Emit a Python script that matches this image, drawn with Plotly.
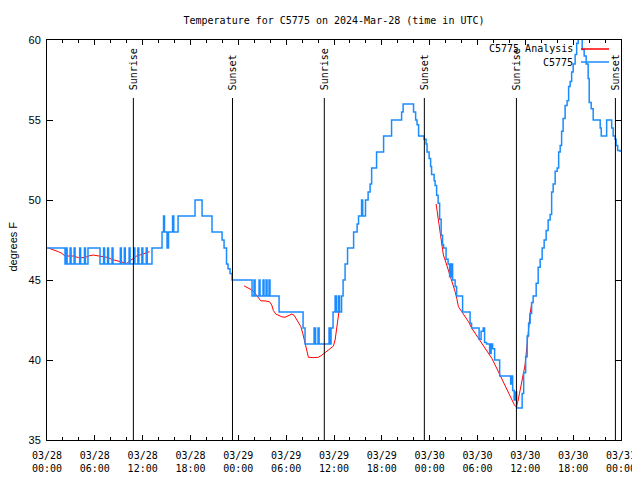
import pandas as pd
import plotly.graph_objects as go

BASE = pd.Timestamp("2024-03-28 00:00")

# Observed temperature (C5775), hours since 03/28 00:00 UTC, value holds until next point
obs_hours = [
    0.00, 2.26, 2.40, 2.52, 2.90, 3.02, 3.40, 3.52, 4.10, 4.22, 4.70, 4.82, 5.14,
    6.65, 7.10, 7.22, 7.60, 7.72, 8.16, 8.28, 9.20, 9.32, 9.70, 9.82, 10.30, 10.42,
    10.90, 11.02, 11.40, 11.52, 11.90, 12.02, 12.45, 12.57, 13.17,
    14.43, 14.62, 14.74, 15.06, 15.24, 15.75, 15.90, 16.44, 18.57, 19.45, 20.70,
    21.96, 22.21, 22.52, 22.71, 22.96, 23.21,
    25.72, 25.97, 26.10, 26.60, 26.72, 27.10, 27.22, 27.48, 27.60, 27.85, 27.97,
    29.11, 32.12, 32.37, 33.50, 33.69, 34.00, 34.13, 35.38, 35.51, 35.63, 35.88,
    36.14, 36.30, 36.55, 36.70, 36.95, 37.14, 37.39, 37.70, 38.46, 38.90, 39.08,
    39.46, 39.60, 39.95, 40.28, 40.53, 40.72, 41.34, 42.22, 43.22, 44.48, 44.67,
    45.98, 46.24, 46.42, 46.61, 47.30, 47.55, 47.67, 47.93, 48.12, 48.24, 48.56, 48.68, 48.87,
    49.06, 49.25, 49.44, 49.62, 49.75, 50.06, 50.31, 50.50, 50.69, 50.88, 51.19, 51.38, 52.13,
    53.07, 53.26, 54.20, 54.45, 54.71, 54.89, 55.14, 55.52, 55.71, 55.90, 56.15, 56.78, 58.16,
    58.28, 58.41, 58.60, 58.78, 58.91, 59.60, 59.79, 60.04, 60.23, 60.41, 60.60, 60.79, 60.98,
    61.36, 61.61, 61.86, 62.11, 62.36, 62.61, 62.86, 63.11, 63.30, 63.49, 63.74, 63.99, 64.18,
    64.37, 64.55, 64.74, 64.99, 65.24, 65.43, 65.62, 65.81, 66.00, 66.25, 66.44, 66.63, 67.13,
    67.38, 67.63, 67.88, 68.01, 68.26, 68.51, 69.39, 69.52, 70.20, 70.83, 71.02, 71.27, 71.39,
    71.58, 71.89,
]
obs_temp = [
    47, 46, 47, 46, 47, 46, 47, 46, 47, 46, 47, 46, 47,
    46, 47, 46, 47, 46, 47, 46, 47, 46, 47, 46, 47, 46,
    47, 46, 47, 46, 47, 46, 47, 46, 47,
    48, 49, 48, 47, 48, 49, 48, 49, 50, 49, 48,
    47.5, 47, 46, 45.7, 45.4, 45,
    44, 45, 44, 45, 44, 45, 44, 45, 44, 45, 44,
    43, 42, 41, 42, 41, 42, 41, 42, 41, 42, 43,
    44, 43, 44, 43, 44, 45, 46, 47, 48, 48.5, 49,
    50, 49, 50, 50.5, 51, 52, 53, 54, 55, 55.5, 56,
    55.5, 55, 54.7, 54, 53.8, 53.5, 53, 52.6, 52.1, 51.6, 51.2, 50.9, 50.3,
    49.8, 48.8, 47.8, 47.2, 47, 46.3, 46, 45.2, 46, 45, 44.6, 44, 43,
    42.3, 42, 41.3, 41.8, 42, 41.1, 41, 40.4, 41, 40.7, 40, 39, 38.5,
    39, 38.1, 37.5, 38, 37, 37.9, 39.2, 40.2, 41.5, 42.3, 42.9, 43.6, 44,
    44.8, 45.8, 46.3, 47, 47.5, 48.1, 48.75, 49.1, 50.5, 51, 51.8, 52, 53,
    53.4, 54.3, 55.1, 55.9, 56.2, 57.1, 57.4, 58, 58.5, 59.1, 59.8, 60.5, 59.4,
    59, 58.5, 57.6, 56.1, 55.7, 55, 54.5, 54, 55, 54.5, 54, 53.8, 53.4,
    53.1, 53,
]

# Analysis (C5775 Analysis) - three segments
ana1_hours = [0.16, 0.79, 1.42, 1.84, 2.26, 3.30, 3.93, 4.77, 5.18, 5.81, 6.44, 7.06, 7.69,
              8.12, 8.75, 9.37, 10.00, 10.41, 10.83, 11.25, 11.88, 12.51, 12.86]
ana1_temp = [47.0, 46.9, 46.77, 46.67, 46.5, 46.5, 46.4, 46.4, 46.5, 46.56, 46.5, 46.46, 46.4,
             46.29, 46.2, 46.1, 46.04, 46.2, 46.35, 46.5, 46.6, 46.7, 46.77]
ana2_hours = [24.72, 25.26, 25.68, 26.10, 26.51, 26.81, 27.35, 27.89, 28.19, 28.39, 28.70,
              29.02, 29.45, 29.86, 30.28, 30.70, 30.99, 31.24, 31.53, 31.83, 32.08, 32.25,
              32.50, 32.66, 32.79, 33.41, 34.04, 34.47, 34.88, 35.29, 35.72, 35.92, 36.14,
              36.26, 36.42, 36.60, 36.67]
ana2_temp = [44.63, 44.48, 44.38, 44.17, 43.86, 43.7, 43.69, 43.65, 43.44, 43.1, 42.87,
             42.8, 42.7, 42.67, 42.75, 42.87, 42.8, 42.6, 42.4, 42.1, 41.67, 41.35,
             40.83, 40.4, 40.17, 40.15, 40.17, 40.3, 40.46, 40.6, 40.8, 40.87, 41.25,
             41.77, 42.5, 43.02, 43.2]
ana3_hours = [48.81, 49.10, 49.40, 49.52, 49.72, 49.94, 50.15, 50.35, 50.56, 50.78, 50.98,
              51.19, 51.40, 51.61, 52.03, 52.45, 52.86, 53.29, 53.70, 54.12, 54.54, 54.96,
              55.37, 55.80, 56.21, 56.63, 57.05, 57.47, 57.88, 58.31, 58.63, 58.85, 59.06,
              59.27, 59.47, 59.69, 59.97, 60.19, 60.39, 60.60, 60.82]
ana3_temp = [49.75, 48.75, 47.8, 47.2, 46.56, 46.25, 45.94, 45.52, 45.2, 44.9, 44.58,
             44.27, 43.85, 43.33, 43.02, 42.7, 42.4, 41.98, 41.67, 41.35, 41.04, 40.73,
             40.42, 40.1, 39.69, 39.27, 38.85, 38.44, 38.02, 37.6, 37.19, 37.08, 37.4,
             37.92, 38.44, 39.06, 39.69, 40.83, 41.98, 42.9, 43.6]

sun_labels = ["Sunrise", "Sunset", "Sunrise", "Sunset", "Sunrise", "Sunset"]
sun_times = ["2024-03-28 10:50", "2024-03-28 23:16", "2024-03-29 10:47",
             "2024-03-29 23:20", "2024-03-30 10:53", "2024-03-30 23:18"]

tick_times = ["2024-03-28 00:00", "2024-03-28 06:00", "2024-03-28 12:00", "2024-03-28 18:00",
              "2024-03-29 00:00", "2024-03-29 06:00", "2024-03-29 12:00", "2024-03-29 18:00",
              "2024-03-30 00:00", "2024-03-30 06:00", "2024-03-30 12:00", "2024-03-30 18:00",
              "2024-03-31 00:00"]
tick_labels = ["03/28<br>00:00", "03/28<br>06:00", "03/28<br>12:00", "03/28<br>18:00",
               "03/29<br>00:00", "03/29<br>06:00", "03/29<br>12:00", "03/29<br>18:00",
               "03/30<br>00:00", "03/30<br>06:00", "03/30<br>12:00", "03/30<br>18:00",
               "03/31<br>00:00"]


def to_time(hours):
    return BASE + pd.to_timedelta(hours, unit="h")


RED = "#ff0000"
BLUE = "#1a8cff"
MONO = "DejaVu Sans Mono, monospace"
SANS = "Liberation Sans, Arial, sans-serif"

# page body has an 8px margin: size the figure so the plot area lands at 47..621 x 40..440
FIG_W, FIG_H = 632, 472
ML, MR, MT, MB = 39, 19, 32, 40
PW = FIG_W - ML - MR
PH = FIG_H - MT - MB

fig = go.Figure()
for hrs, tmp in [(ana1_hours, ana1_temp), (ana2_hours, ana2_temp), (ana3_hours, ana3_temp)]:
    fig.add_trace(go.Scatter(x=to_time(hrs), y=tmp, mode="lines",
                             line=dict(color=RED, width=1), showlegend=False,
                             name="C5775 Analysis"))
fig.add_trace(go.Scatter(x=to_time(obs_hours), y=obs_temp, mode="lines",
                         line=dict(color=BLUE, width=1.5, shape="hv"), showlegend=False,
                         name="C5775"))

shapes = []
annotations = []
for lab, t in zip(sun_labels, sun_times):
    shapes.append(dict(type="line", xref="x", yref="y", x0=t, x1=t, y0=35, y1=56.375,
                       line=dict(color="black", width=1)))
    annotations.append(dict(x=t, y=56.75, xref="x", yref="y", text=lab, showarrow=False,
                            textangle=-90, xanchor="center", yanchor="bottom",
                            font=dict(family=MONO, size=10, color="black")))

# legend (text left of sample line, gnuplot style); positions in plot-area pixels
for lab, col, ypix in [("C5775 Analysis", RED, 9), ("C5775", BLUE, 22)]:
    yp = (PH - ypix) / PH
    annotations.append(dict(x=528 / PW, y=yp, xref="paper", yref="paper", text=lab,
                            showarrow=False, xanchor="right", yanchor="middle",
                            font=dict(family=MONO, size=10, color="black")))
    shapes.append(dict(type="line", xref="paper", yref="paper", x0=534 / PW,
                       x1=562 / PW, y0=yp, y1=yp, line=dict(color=col, width=1.5)))

annotations.append(dict(x=-34.5 / PW, y=(PH - 207) / PH, xref="paper", yref="paper",
                        text="degrees F", showarrow=False, textangle=-90,
                        xanchor="center", yanchor="middle",
                        font=dict(family=SANS, size=11, color="black")))

fig.update_layout(
    width=FIG_W, height=FIG_H,
    margin=dict(l=ML, r=MR, t=MT, b=MB, autoexpand=False),
    paper_bgcolor="white", plot_bgcolor="white",
    title=dict(text="Temperature for C5775 on 2024-Mar-28 (time in UTC)",
               x=(334 - 8) / FIG_W, xanchor="center", y=1 - 12 / FIG_H, yanchor="middle",
               font=dict(family=MONO, size=10, color="black")),
    shapes=shapes, annotations=annotations, showlegend=False,
)
fig.update_xaxes(
    type="date", range=["2024-03-28 00:00", "2024-03-31 00:00"],
    tickvals=tick_times, ticktext=tick_labels, automargin=False,
    ticks="inside", ticklen=5, tickcolor="black", tickwidth=1,
    minor=dict(dtick=2 * 3600 * 1000, ticks="inside", ticklen=3, tickcolor="black"),
    showline=True, linecolor="black", linewidth=1, mirror="ticks",
    showgrid=False, zeroline=False, ticklabelstandoff=6,
    tickfont=dict(family=MONO, size=10, color="black"),
)
fig.update_yaxes(
    range=[35, 60], tickvals=[35, 40, 45, 50, 55, 60], automargin=False,
    ticks="inside", ticklen=6, tickcolor="black", tickwidth=1,
    showline=True, linecolor="black", linewidth=1, mirror="ticks",
    showgrid=False, zeroline=False, ticklabelstandoff=3,
    tickfont=dict(family=SANS, size=11, color="black"),
)

fig.write_html("out.html")
